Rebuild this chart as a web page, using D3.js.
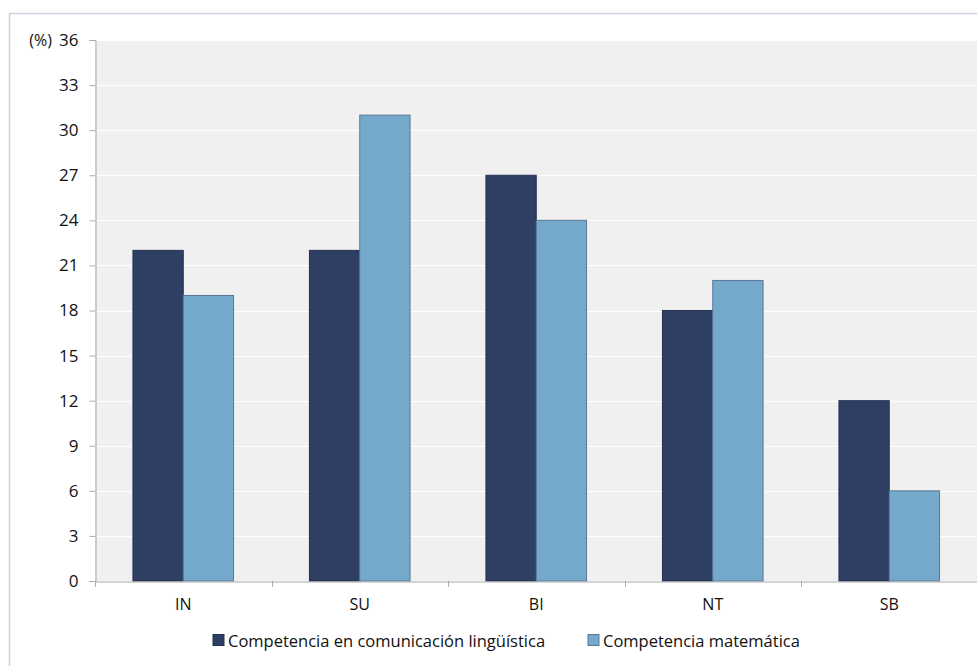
<!DOCTYPE html>
<html><head><meta charset="utf-8">
<script src="https://cdn.jsdelivr.net/npm/d3@7"></script>
<style>body{margin:0;background:#fff}svg{display:block}text{font-family:"Open Sans",Lato,sans-serif;fill:#111}</style>
</head><body><svg id="c" width="977" height="666"></svg>
<script>
const categories = ["IN","SU","BI","NT","SB"];
const seriesNames = ["Competencia en comunicación lingüística","Competencia matemática"];
const lingValues = [22,22,27,18,12];
const mathValues = [19,31,24,20,6];
const yTicks = [0,3,6,9,12,15,18,21,24,27,30,33,36];
const colors = ["#2e3f63","#74a9cb"];
const strokes = ["#24324f","#5a7896"];

const svg = d3.select("#c");
const L=95, R=977.5, T=40, B=581;
svg.append("rect").attr("x",9.5).attr("y",13.5).attr("width",990).attr("height",700).attr("fill","#fff").attr("stroke","#c9d1e0").attr("stroke-width",1.5);
const x = d3.scaleBand().domain(categories).range([L,R]).paddingInner(0.43).paddingOuter(0.215);
const x0 = d3.scaleBand().domain(categories).range([L,R]);
const xs = d3.scaleBand().domain([0,1]).range([0,x.bandwidth()]);
const y = d3.scaleLinear().domain([0,36]).range([B,T]);

svg.append("rect").attr("x",L).attr("y",T).attr("width",R-L).attr("height",B-T).attr("fill","#f0f0f0");
svg.append("g").selectAll("line").data(yTicks.filter(d=>d>0)).join("line")
  .attr("x1",L).attr("x2",R).attr("y1",d=>Math.round(y(d))+0.5).attr("y2",d=>Math.round(y(d))+0.5)
  .attr("stroke","#fff").attr("stroke-width",1.2);

const data = categories.map((c,i)=>({c,v:[lingValues[i],mathValues[i]]}));
const g = svg.append("g").selectAll("g").data(data).join("g").attr("transform",d=>`translate(${x(d.c)},0)`);
g.selectAll("rect").data(d=>d.v.map((v,k)=>({v,k}))).join("rect")
  .attr("x",d=>xs(d.k)).attr("width",xs.bandwidth()).attr("y",d=>y(d.v)).attr("height",d=>B-y(d.v))
  .attr("fill",d=>colors[d.k]).attr("stroke",d=>strokes[d.k]).attr("stroke-width",1);

const ya = svg.append("g").attr("transform",`translate(${L+0.5},0)`)
  .call(d3.axisLeft(y).tickValues(yTicks).tickSize(6).tickPadding(11));
ya.select(".domain").attr("stroke","#aaa");
ya.selectAll(".tick line").attr("stroke","#aaa");
ya.selectAll("text").style("font-size","17px").attr("fill","#111");

const xa = svg.append("g").attr("transform",`translate(0,${B+0.5})`)
  .call(d3.axisBottom(x0).tickSize(0).tickPadding(17));
xa.select(".domain").attr("stroke","#aaa");
xa.selectAll("text").style("font-size","16px").attr("fill","#111");
svg.append("g").selectAll("line").data(categories.map(c=>x0(c))).join("line")
  .attr("x1",d=>Math.round(d)+0.5).attr("x2",d=>Math.round(d)+0.5).attr("y1",B).attr("y2",B+6).attr("stroke","#aaa");

svg.append("text").attr("x",52).attr("y",46).attr("text-anchor","end").style("font-size","16px").text("(%)");

const lx=[213,588];
const lg = svg.append("g").selectAll("g").data(seriesNames).join("g").attr("transform",(d,i)=>`translate(${lx[i]},634.5)`);
lg.append("rect").attr("width",11).attr("height",11).attr("fill",(d,i)=>colors[i]).attr("stroke",(d,i)=>strokes[i]);
lg.append("text").attr("x",15).attr("y",12).style("font-size","16.5px").text(d=>d);
</script></body></html>
